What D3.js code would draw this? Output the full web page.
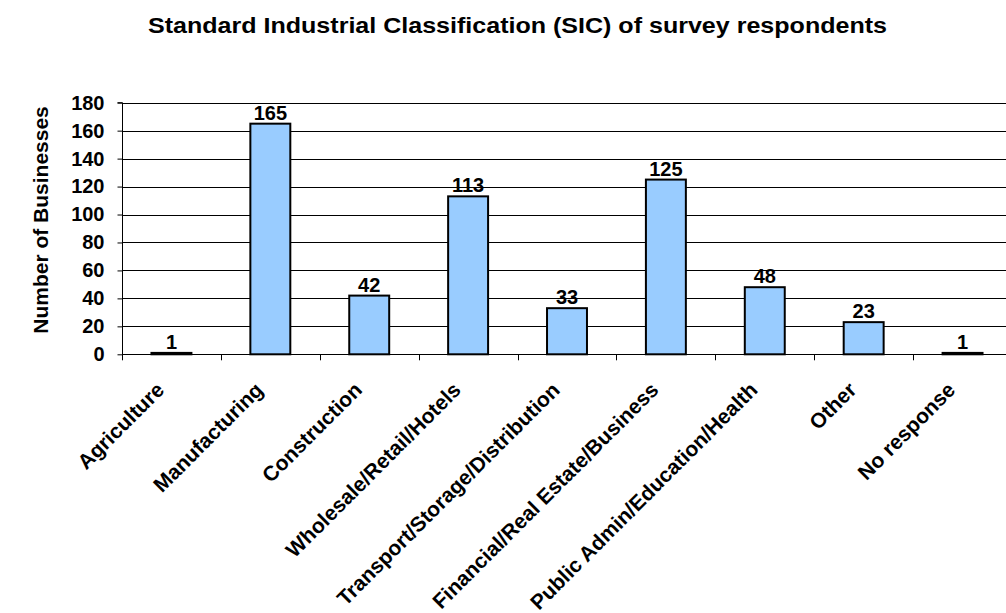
<!DOCTYPE html>
<html>
<head>
<meta charset="utf-8">
<script src="https://cdn.jsdelivr.net/npm/d3@7"></script>
<style>
  html, body { margin: 0; padding: 0; background: #fff; }
  svg { display: block; font-family: "Liberation Sans", Arial, sans-serif; font-weight: bold; }
</style>
</head>
<body>
<svg id="chart" width="1006" height="613"></svg>
<script>
// Survey respondents by Standard Industrial Classification
const categories = [
  "Agriculture",
  "Manufacturing",
  "Construction",
  "Wholesale/Retail/Hotels",
  "Transport/Storage/Distribution",
  "Financial/Real Estate/Business",
  "Public Admin/Education/Health",
  "Other",
  "No response"
];
const businesses = [1, 165, 42, 113, 33, 125, 48, 23, 1];
const yTicks = [0, 20, 40, 60, 80, 100, 120, 140, 160, 180];

const titleText = "Standard Industrial Classification (SIC) of survey respondents";
const yAxisTitle = "Number of Businesses";

const svg = d3.select("#chart");

const plot = { left: 122, right: 1012, top: 102.7, bottom: 354.3 };

const x = d3.scaleBand()
  .domain(categories)
  .range([plot.left, plot.right])
  .paddingInner(0.596)
  .paddingOuter(0.298);

const y = d3.scaleLinear()
  .domain([0, 180])
  .range([plot.bottom, plot.top]);

// Title
svg.append("text")
  .attr("x", 517.5)
  .attr("y", 32.7)
  .attr("text-anchor", "middle")
  .attr("font-size", 22)
  .attr("textLength", 739)
  .attr("lengthAdjust", "spacingAndGlyphs")
  .text(titleText);

// Horizontal gridlines
svg.append("g")
  .selectAll("line")
  .data(yTicks.filter(d => d > 0))
  .join("line")
  .attr("x1", plot.left)
  .attr("x2", plot.right)
  .attr("y1", d => Math.round(y(d)) + 0.5)
  .attr("y2", d => Math.round(y(d)) + 0.5)
  .attr("stroke", "#000")
  .attr("stroke-width", 1);

// Y axis
const yAxis = svg.append("g")
  .attr("transform", `translate(${plot.left + 0.5},0)`)
  .call(d3.axisLeft(y).tickValues(yTicks).tickSize(5).tickPadding(13).tickFormat(d3.format("d")));
yAxis.select(".domain").attr("stroke", "#000").attr("d", `M-5,${plot.top}H0V${plot.bottom}`);
yAxis.selectAll(".tick line").attr("stroke", "#000");
yAxis.selectAll(".tick text")
  .attr("font-size", 20)
  .attr("font-weight", "bold")
  .attr("font-family", "Liberation Sans, Arial, sans-serif")
  .attr("fill", "#000");

// Y axis title
svg.append("text")
  .attr("transform", `translate(48,220) rotate(-90)`)
  .attr("text-anchor", "middle")
  .attr("font-size", 21)
  .text(yAxisTitle);

// Bars
svg.append("g")
  .selectAll("rect")
  .data(categories)
  .join("rect")
  .attr("x", d => x(d))
  .attr("width", x.bandwidth())
  .attr("y", (d, i) => y(businesses[i]))
  .attr("height", (d, i) => y(0) - y(businesses[i]))
  .attr("fill", "#99CCFF")
  .attr("stroke", "#000")
  .attr("stroke-width", 2);

// Value labels
svg.append("g")
  .selectAll("text")
  .data(categories)
  .join("text")
  .attr("x", d => x(d) + x.bandwidth() / 2)
  .attr("y", (d, i) => y(businesses[i]) - 4)
  .attr("text-anchor", "middle")
  .attr("font-size", 20)
  .text((d, i) => businesses[i]);

// X axis baseline and category separators
const step = x.step();
const xAxis = svg.append("g");
xAxis.append("line")
  .attr("x1", plot.left)
  .attr("x2", plot.right)
  .attr("y1", Math.round(plot.bottom) + 0.5)
  .attr("y2", Math.round(plot.bottom) + 0.5)
  .attr("stroke", "#000");
xAxis.selectAll("line.sep")
  .data(d3.range(categories.length + 1))
  .join("line")
  .attr("class", "sep")
  .attr("x1", i => Math.round(plot.left + i * step) + 0.5)
  .attr("x2", i => Math.round(plot.left + i * step) + 0.5)
  .attr("y1", plot.bottom)
  .attr("y2", plot.bottom + 6)
  .attr("stroke", "#000");

// Rotated category labels
xAxis.selectAll("text")
  .data(categories)
  .join("text")
  .attr("transform", d => `translate(${x(d) + x.bandwidth() / 2 - 6},${plot.bottom + 37}) rotate(-45)`)
  .attr("text-anchor", "end")
  .attr("font-size", 21)
  .text(d => d);
</script>
</body>
</html>
